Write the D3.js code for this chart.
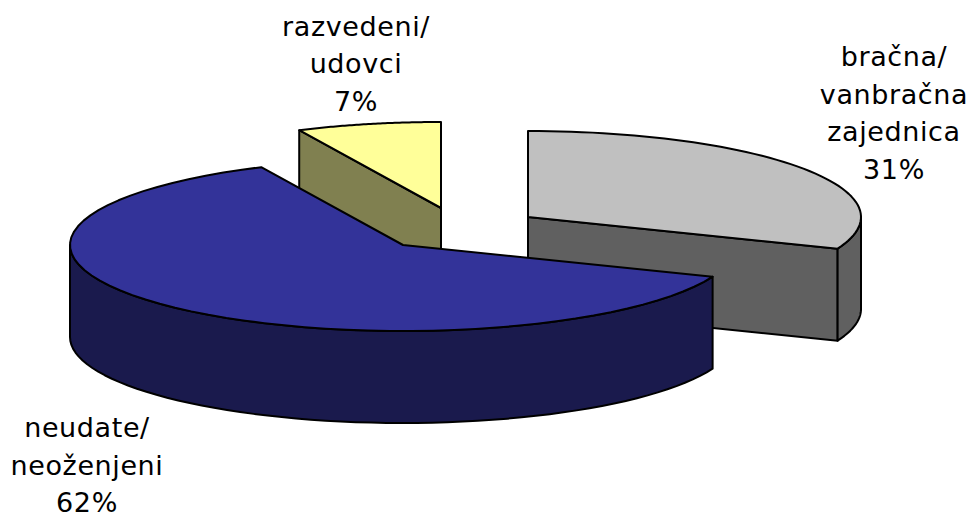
<!DOCTYPE html>
<html><head><meta charset="utf-8">
<style>html,body{margin:0;padding:0;background:#fff}svg{display:block}text{font-family:"DejaVu Sans",sans-serif;font-size:27px;letter-spacing:0.6px;fill:#000}</style>
<script src="https://cdn.jsdelivr.net/npm/d3@7/dist/d3.min.js"></script>
</head><body><svg id="c" width="969" height="515"></svg>
<script>
const categories = ["bračna/ vanbračna zajednica", "neudate/ neoženjeni", "razvedeni/ udovci"];
const values = [31, 62, 7];
const topColors = ["#c0c0c0", "#333399", "#ffff99"];
const sideColors = ["#606060", "#1a1a4d", "#808050"];
const labelLines = [["bračna/","vanbračna","zajednica","31%"],["neudate/","neoženjeni","62%"],["razvedeni/","udovci","7%"]];

const rx = 333, ry = 86, depth = 92;
const centers = [[528,217],[403,245],[441,208]];
const labelPos = [[894,66],[87,437],[356,35.5]];
const lineH = 37.5;

const svg = d3.select("#c");
const arcs = d3.pie().sort(null).startAngle(0).endAngle(2*Math.PI).value(d=>d)(values);
const px = (c,a,dy=0)=>[c[0]+rx*Math.sin(a), c[1]-ry*Math.cos(a)+dy];
const line = d3.line();
const sample = (a0,a1)=>d3.range(0,61).map(i=>a0+(a1-a0)*i/60);

function poly(pts,fill,sw=2){
  svg.append("path").attr("d",line(pts)+"Z").attr("fill",fill).attr("stroke","#000").attr("stroke-width",sw).attr("stroke-linejoin","round");
}
function wall(c,a0,a1,fill){
  const s=sample(a0,a1);
  poly([...s.map(a=>px(c,a)),...s.slice().reverse().map(a=>px(c,a,depth))],fill);
}
function cut(c,a,fill){
  poly([c,px(c,a),px(c,a,depth),[c[0],c[1]+depth]],fill);
}
function face(c,a0,a1,fill,sw){
  poly([c,...sample(a0,a1).map(a=>px(c,a))],fill,sw);
}
const [g,b,y]=arcs;
// back to front: yellow, grey, blue
cut(centers[2],y.startAngle,sideColors[2]);
face(centers[2],y.startAngle,y.endAngle,topColors[2]);
cut(centers[0],g.endAngle,sideColors[0]);
wall(centers[0],Math.PI/2,g.endAngle,sideColors[0]);
face(centers[0],g.startAngle,g.endAngle,topColors[0]);
wall(centers[1],b.startAngle,3*Math.PI/2,sideColors[1]);
face(centers[1],b.startAngle,b.endAngle,topColors[1]);

labelLines.forEach((ls,i)=>{
  const t=svg.append("text").attr("text-anchor","middle");
  ls.forEach((s,j)=>t.append("tspan").attr("x",labelPos[i][0]).attr("y",labelPos[i][1]+j*lineH).text(s));
});
</script></body></html>
